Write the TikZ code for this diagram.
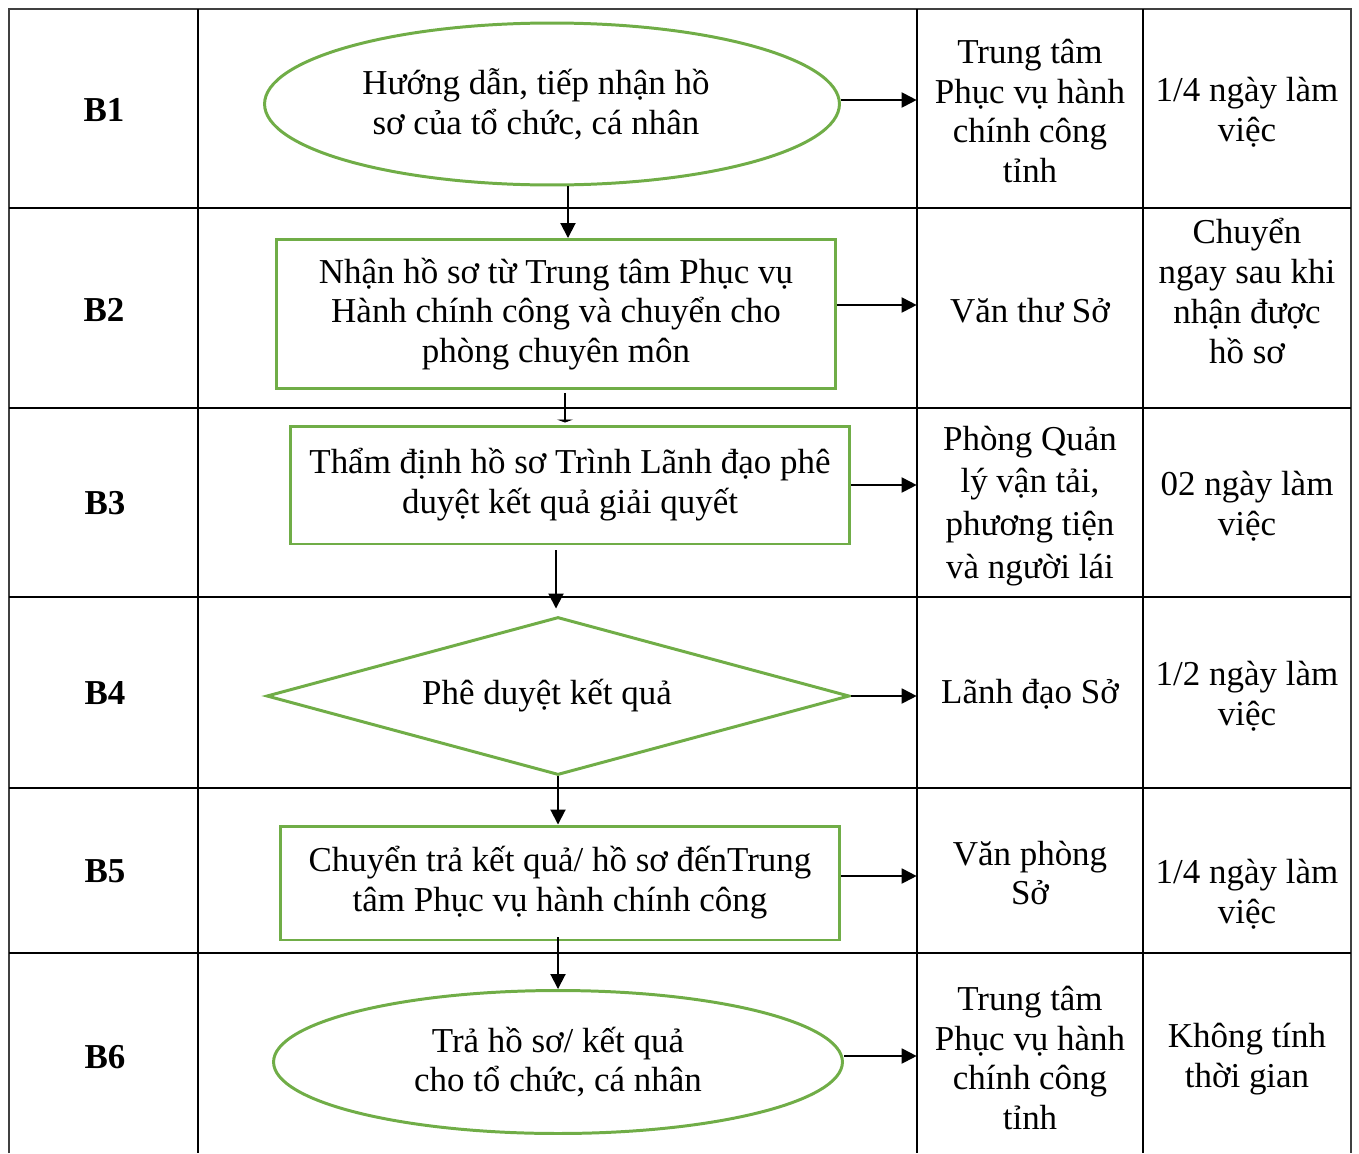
\documentclass[tikz,border=0pt]{standalone}
\usepackage{fontspec}
\setmainfont{Liberation Serif}
\usetikzlibrary{arrows.meta,positioning,shapes.geometric}
\definecolor{mygreen}{RGB}{112,173,71}
\definecolor{mygray}{RGB}{64,64,64}

\begin{document}
\begin{tikzpicture}[
  x=0.02cm, y=-0.02cm,
  every node/.style={font=\fontsize{19.9}{22.7}\selectfont, align=center, inner sep=0pt},
  stepno/.style={font=\fontsize{19.9}{22.7}\selectfont\bfseries},
  term/.style={ellipse, draw=mygreen, line width=1.7pt},
  proc/.style={rectangle, draw=mygreen, line width=1.7pt, minimum width=11.2cm},
  choice/.style={diamond, draw=mygreen, line width=1.7pt, aspect=3.7},
  unit/.style={minimum width=4.52cm},
  edge/.style={-{Triangle[length=0.3cm,width=0.3cm]}, line width=1.1pt},
  grid/.style={line width=0.75pt}
]
\useasboundingbox (0,0) rectangle (1359,1153);

% table
\draw[line width=1.1pt, mygray] (9,1153) -- (9,9) -- (1351,9) -- (1351,1153);
\foreach \x in {198,917,1143} \draw[grid] (\x,9) -- (\x,1153);
\foreach \y in {208,408,597,788,953} \draw[grid] (9,\y) -- (1351,\y);

% step labels
\node[stepno] (s1) at (104,110) {B1};
\node[stepno] (s2) at (104,310) {B2};
\node[stepno] (s3) at (105,503) {B3};
\node[stepno] (s4) at (105,693) {B4};
\node[stepno] (s5) at (105,871) {B5};
\node[stepno] (s6) at (105,1057) {B6};

% flow
\node[term, minimum width=11.5cm, minimum height=3.24cm] (b1) at (552,104) {Hướng dẫn, tiếp nhận hồ\hspace*{0.64cm}\\sơ của tổ chức, cá nhân\hspace*{0.64cm}};
\node[proc, minimum height=2.98cm] (b2) at (556,314) {Nhận hồ sơ từ Trung tâm Phục vụ\\Hành chính công và chuyển cho\\phòng chuyên môn};
\node[proc, minimum height=2.36cm] (b3) at (570,485) {Thẩm định hồ sơ Trình Lãnh đạo phê\\duyệt kết quả giải quyết};
\node[choice, minimum width=11.66cm, minimum height=3.16cm] (b4) at (558,696) {Phê duyệt kết quả\hspace*{0.44cm}};
\node[proc, minimum height=2.28cm] (b5) at (560,883) {Chuyển trả kết quả/ hồ sơ đếnTrung\\tâm Phục vụ hành chính công};
\node[term, minimum width=11.38cm, minimum height=2.86cm] (b6) at (558,1062) {Trả hồ sơ/ kết quả\\cho tổ chức, cá nhân};

% units
\node[unit] (c1) at (1030,111) {Trung tâm\\Phục vụ hành\\chính công\\tỉnh};
\node[unit] (c2) at (1030,311) {Văn thư Sở};
\node[unit, font=\fontsize{19.9}{24.4}\selectfont] (c3) at (1030,506) {Phòng Quản\\lý vận tải,\\phương tiện\\và người lái};
\node[unit] (c4) at (1030,694) {Lãnh đạo Sở};
\node[unit] (c5) at (1030,873) {Văn phòng\\Sở};
\node[unit] (c6) at (1030,1058) {Trung tâm\\Phục vụ hành\\chính công\\tỉnh};

% times
\node (t1) at (1247,112) {1/4 ngày làm\\việc};
\node (t2) at (1247,291) {Chuyển\\ngay sau khi\\nhận được\\hồ sơ};
\node (t3) at (1247,506) {02 ngày làm\\việc};
\node (t4) at (1247,696) {1/2 ngày làm\\việc};
\node (t5) at (1247,894) {1/4 ngày làm\\việc};
\node (t6) at (1247,1059) {Không tính\\thời gian};

% arrows
\draw[edge] ([yshift=0.08cm]b1.east) -- ([yshift=0.08cm]b1.east -| c1.west);
\draw[edge] ([yshift=0.18cm]b2.east) -- ([yshift=0.18cm]b2.east -| c2.west);
\draw[edge] (b3.east) -- (b3.east -| c3.west);
\draw[edge] (b4.east) -- (b4.east -| c4.west);
\draw[edge] ([yshift=0.14cm]b5.east) -- ([yshift=0.14cm]b5.east -| c5.west);
\draw[edge] ([yshift=0.12cm]b6.east) -- ([yshift=0.12cm]b6.east -| c6.west);

\draw[edge] ([xshift=0.32cm]b1.south) -- ([xshift=0.32cm]b1.south |- b2.north);
\draw[-{Triangle[length=0.06cm,width=0.32cm]}, line width=1.1pt] ([xshift=0.18cm,yshift=-0.06cm]b2.south) -- ([xshift=0.18cm,yshift=0.04cm]b2.south |- b3.north);
\draw[edge, shorten <=0.1cm, shorten >=0.14cm] ([xshift=-0.28cm]b3.south) -- ([xshift=-0.28cm]b3.south |- b4.north);
\draw[edge] (b4.south) -- (b4.south |- b5.north);
\draw[edge, shorten <=-0.08cm] ([xshift=-0.04cm]b5.south) -- ([xshift=-0.04cm]b5.south |- b6.north);
\end{tikzpicture}
\end{document}
